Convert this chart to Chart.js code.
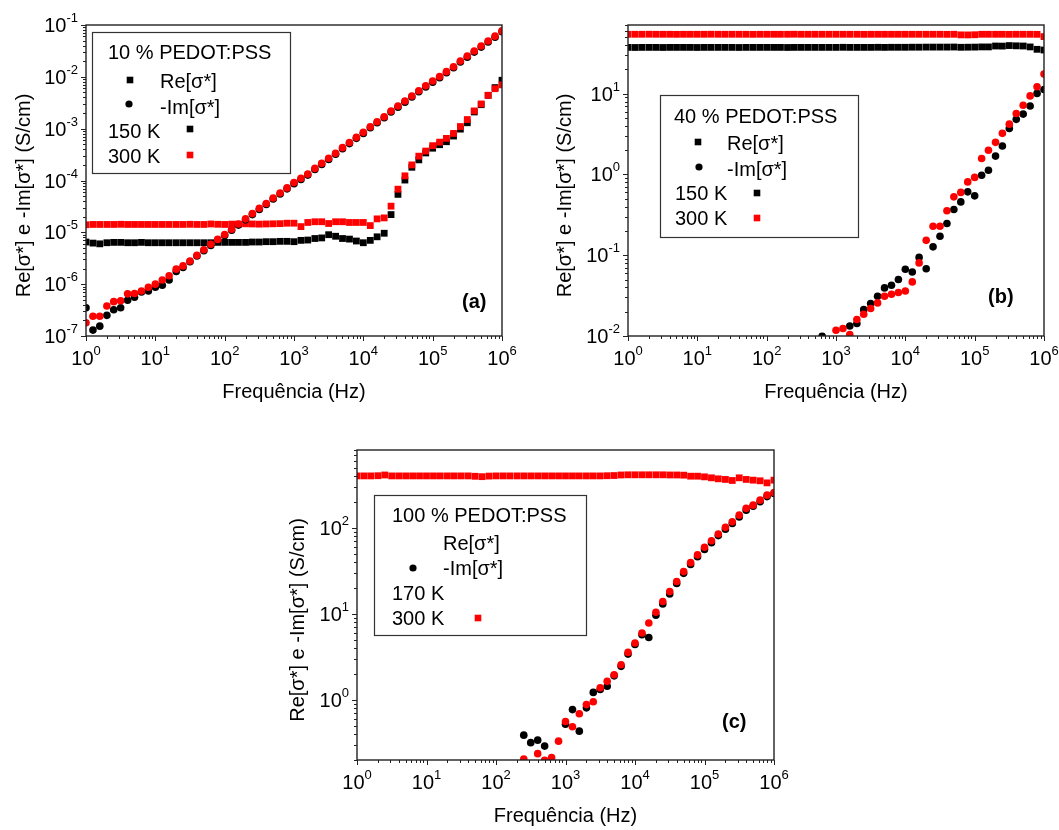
<!DOCTYPE html>
<html>
<head>
<meta charset="utf-8">
<script src="https://cdn.jsdelivr.net/npm/chart.js@4.4.1/dist/chart.umd.min.js"></script>
<style>
    body { margin: 0; background: #fff; width: 1059px; height: 830px; position: relative; overflow: hidden; }
    .panel { position: absolute; }
</style>
</head>
<body>
<div class="panel" style="left:0;top:0"><canvas id="chartA" width="520" height="415"></canvas></div>
<div class="panel" style="left:530px;top:0"><canvas id="chartB" width="529" height="415"></canvas></div>
<div class="panel" style="left:270px;top:420px"><canvas id="chartC" width="520" height="410"></canvas></div>
<script>
// frequencies (Hz), 10 per decade
const freq = [
    1, 1.26, 1.58, 2, 2.51, 3.16, 3.98, 5.01, 6.31, 7.94,
    10, 12.6, 15.8, 20, 25.1, 31.6, 39.8, 50.1, 63.1, 79.4,
    100, 126, 158, 200, 251, 316, 398, 501, 631, 794,
    1e3, 1.26e3, 1.58e3, 2e3, 2.51e3, 3.16e3, 3.98e3, 5.01e3, 6.31e3, 7.94e3,
    1e4, 1.26e4, 1.58e4, 2e4, 2.51e4, 3.16e4, 3.98e4, 5.01e4, 6.31e4, 7.94e4,
    1e5, 1.26e5, 1.58e5, 2e5, 2.51e5, 3.16e5, 3.98e5, 5.01e5, 6.31e5, 7.94e5,
    1e6
];

// (a) 10 % PEDOT:PSS
const aRe150 = [
    6.5e-6, 6.2e-6, 6.0e-6, 6.3e-6, 6.4e-6, 6.4e-6, 6.3e-6, 6.3e-6, 6.4e-6, 6.3e-6,
    6.3e-6, 6.3e-6, 6.3e-6, 6.3e-6, 6.3e-6, 6.3e-6, 6.3e-6, 6.3e-6, 6.3e-6, 6.4e-6,
    6.4e-6, 6.4e-6, 6.4e-6, 6.4e-6, 6.5e-6, 6.5e-6, 6.6e-6, 6.6e-6, 6.7e-6, 6.7e-6,
    6.6e-6, 7.0e-6, 7.1e-6, 7.6e-6, 7.8e-6, 9.0e-6, 8.4e-6, 7.6e-6, 7.4e-6, 6.8e-6,
    6.3e-6, 7.0e-6, 8.2e-6, 9.6e-6, 2.2e-5, 5.4e-5, 1.02e-4, 1.8e-4, 2.5e-4, 3.4e-4,
    4.2e-4, 4.9e-4, 5.6e-4, 7.2e-4, 9.8e-4, 1.3e-3, 2.1e-3, 2.9e-3, 4.4e-3, 6.2e-3,
    8.6e-3
];
const aRe300 = [
    1.40e-5, 1.42e-5, 1.42e-5, 1.42e-5, 1.42e-5, 1.43e-5, 1.42e-5, 1.42e-5, 1.42e-5, 1.42e-5,
    1.42e-5, 1.42e-5, 1.42e-5, 1.42e-5, 1.42e-5, 1.43e-5, 1.42e-5, 1.42e-5, 1.45e-5, 1.43e-5,
    1.42e-5, 1.44e-5, 1.44e-5, 1.46e-5, 1.45e-5, 1.44e-5, 1.45e-5, 1.46e-5, 1.47e-5, 1.50e-5,
    1.50e-5, 1.29e-5, 1.55e-5, 1.6e-5, 1.6e-5, 1.48e-5, 1.6e-5, 1.6e-5, 1.55e-5, 1.55e-5,
    1.55e-5, 1.35e-5, 1.82e-5, 1.9e-5, 3.2e-5, 6.8e-5, 1.23e-4, 2.0e-4, 2.95e-4, 3.7e-4,
    4.7e-4, 5.5e-4, 6.5e-4, 8.1e-4, 1.1e-3, 1.5e-3, 2.2e-3, 3.0e-3, 4.4e-3, 5.9e-3,
    7.0e-3
];
const aIm150 = [
    3.5e-7, 1.3e-7, 1.55e-7, 2.5e-7, 3.2e-7, 3.5e-7, 4.9e-7, 5.6e-7, 7.1e-7, 7.4e-7,
    8.7e-7, 9.5e-7, 1.2e-6, 1.75e-6, 2.1e-6, 2.7e-6, 3.5e-6, 4.4e-6, 5.6e-6, 7.0e-6,
    8.7e-6, 1.1e-5, 1.38e-5, 1.74e-5, 2.2e-5, 2.75e-5, 3.45e-5, 4.4e-5, 5.5e-5, 6.9e-5,
    8.7e-5, 1.05e-4, 1.27e-4, 1.63e-4, 2.04e-4, 2.55e-4, 3.2e-4, 4.1e-4, 5.15e-4, 6.5e-4,
    8.1e-4, 1.04e-3, 1.3e-3, 1.62e-3, 2.09e-3, 2.6e-3, 3.25e-3, 4.07e-3, 5.15e-3, 6.4e-3,
    7.9e-3, 9.6e-3, 1.2e-2, 1.5e-2, 1.93e-2, 2.4e-2, 3.0e-2, 3.75e-2, 4.7e-2, 5.8e-2,
    7.4e-2
];
const aIm300 = [
    1.8e-7, 2.4e-7, 2.4e-7, 3.8e-7, 4.6e-7, 4.8e-7, 6.5e-7, 6.6e-7, 7.4e-7, 8.7e-7,
    1.0e-6, 1.2e-6, 1.45e-6, 1.95e-6, 2.25e-6, 2.8e-6, 3.6e-6, 4.6e-6, 5.9e-6, 7.3e-6,
    9.1e-6, 1.15e-5, 1.45e-5, 1.82e-5, 2.3e-5, 2.9e-5, 3.6e-5, 4.6e-5, 5.75e-5, 7.2e-5,
    9.1e-5, 1.1e-4, 1.33e-4, 1.71e-4, 2.14e-4, 2.68e-4, 3.35e-4, 4.3e-4, 5.4e-4, 6.8e-4,
    8.5e-4, 1.09e-3, 1.36e-3, 1.7e-3, 2.19e-3, 2.74e-3, 3.42e-3, 4.27e-3, 5.4e-3, 6.7e-3,
    8.3e-3, 1.01e-2, 1.26e-2, 1.57e-2, 2.02e-2, 2.52e-2, 3.15e-2, 3.94e-2, 4.9e-2, 6.1e-2,
    7.7e-2
];

// (b) 40 % PEDOT:PSS
const bRe150 = [
    37.5, 37.4, 37.5, 37.5, 37.5, 37.4, 37.5, 37.5, 37.5, 37.5,
    37.4, 37.5, 37.5, 37.5, 37.5, 37.5, 37.4, 37.5, 37.5, 37.5,
    37.5, 37.5, 37.5, 37.4, 37.5, 37.5, 37.5, 37.5, 37.5, 37.5,
    37.5, 37.6, 37.5, 37.5, 37.5, 37.5, 37.6, 37.5, 37.6, 37.6,
    37.6, 37.7, 37.7, 37.8, 37.8, 37.8, 37.8, 37.9, 37.6, 37.7,
    37.8, 38.0, 38.0, 39.0, 38.9, 39.5, 39.2, 39.0, 38.0, 35.5,
    34.8
];
const bRe300 = [
    54.5, 54.5, 54.5, 54.6, 54.5, 54.5, 54.5, 54.4, 54.5, 54.5,
    54.5, 54.5, 54.6, 54.5, 54.5, 54.5, 54.5, 54.5, 54.4, 54.5,
    54.5, 54.5, 54.5, 54.5, 54.6, 54.5, 54.5, 54.5, 54.5, 54.5,
    54.5, 54.5, 54.5, 54.5, 54.4, 54.5, 54.5, 54.5, 54.5, 54.5,
    54.5, 54.5, 54.5, 54.5, 54.5, 54.5, 54.4, 54.5, 53.6, 53.5,
    53.8, 54.5, 54.5, 54.5, 54.5, 54.4, 54.5, 54.5, 54.5, 54.4,
    51
];
const bIm150 = [
    null, null, null, null, null, null, null, null, null, null,
    null, null, null, null, null, null, null, null, null, null,
    null, null, null, null, null, null, null, null, 0.0099, null,
    null, null, 0.0133, 0.0143, 0.0212, 0.0252, 0.031, 0.0394, 0.0425, 0.050,
    0.067, 0.062, 0.094, 0.068, 0.127, 0.172, 0.247, 0.368, 0.458, 0.61,
    0.544, 0.98, 1.13, 1.69, 2.25, 3.72, 4.82, 5.6, 7.05, 10.1,
    11.3
];
const bIm300 = [
    null, null, null, null, null, null, null, null, null, null,
    null, null, null, null, null, null, null, null, null, null,
    null, null, null, null, null, null, null, null, null, null,
    0.0118, 0.0124, 0.0104, 0.016, 0.0186, 0.0219, 0.0257, 0.031, 0.0329, 0.0345,
    0.0361, 0.0468, 0.0804, 0.153, 0.229, 0.229, 0.355, 0.529, 0.60, 0.81,
    0.92, 1.58, 2.0, 2.5, 3.23, 4.2, 5.7, 7.2, 9.4, 12.2,
    17.5
];

// (c) 100 % PEDOT:PSS
const cRe300 = [
    400, 400, 400, 402, 410, 400, 400, 400, 400, 400,
    400, 400, 400, 400, 400, 400, 400, 396, 392, 398,
    400, 400, 400, 400, 400, 400, 400, 400, 400, 400,
    400, 400, 400, 400, 400, 400, 402, 404, 410, 412,
    412, 412, 412, 412, 412, 410, 410, 408, 397, 397,
    390, 380, 370, 364, 354, 380, 364, 357, 351, 332,
    357
];
const cIm170 = [
    null, null, null, null, null, null, null, null, null, null,
    null, null, null, null, null, null, null, null, null, null,
    null, null, null, null, 0.389, 0.318, 0.34, 0.29, null, null,
    0.52, 0.77, 0.433, 0.807, 1.22, 1.32, 1.44, 1.9, 2.45, 3.4,
    4.4, 5.7, 5.3, 9.6, 13.0, 17.0, 22.5, 29.5, 37.5, 46,
    56, 67, 81, 96, 112, 133, 160, 178, 200, 230,
    250
];
const cIm300 = [
    null, null, null, null, null, null, null, null, null, null,
    null, null, null, null, null, null, null, null, null, null,
    null, null, null, null, 0.205, null, 0.237, 0.198, 0.213, 0.331,
    0.56, 0.486, 0.688, 0.88, 0.95, 1.38, 1.64, 1.96, 2.56, 3.56,
    4.57, 5.97, 7.8, 10.4, 13.9, 18.1, 23.7, 30.9, 39.3, 48.3,
    59.3, 70.6, 84.5, 101, 117, 140, 168, 183, 209, 239,
    257
];

// decade exponents that get a label
const xExp = [0, 1, 2, 3, 4, 5, 6];
const aYExp = [-7, -6, -5, -4, -3, -2, -1];
const bYExp = [-2, -1, 0, 1];
const cYExp = [0, 1, 2];

const FONT = '"Liberation Sans", Arial, Helvetica, sans-serif';
const RED = '#ff0000';
const BLACK = '#000000';

function points(values) {
    const out = [];
    values.forEach(function (v, i) {
        if (v !== null) out.push({ x: freq[i], y: v });
    });
    return out;
}

function series(label, values, color, style) {
    return {
        label: label,
        data: points(values),
        pointStyle: style,
        pointRadius: style === 'rect' ? 4.8 : 3.8,
        backgroundColor: color,
        borderColor: color,
        borderWidth: 0,
        pointBorderWidth: 0,
        showLine: false
    };
}

function powerLabel(ctx, x, y, exp, align) {
    ctx.font = '20px ' + FONT;
    const w1 = ctx.measureText('10').width;
    ctx.font = '13px ' + FONT;
    const w2 = ctx.measureText(String(exp)).width;
    const start = align === 'center' ? x - (w1 + w2) / 2 : x - w1 - w2;
    ctx.textAlign = 'left';
    ctx.font = '20px ' + FONT;
    ctx.fillText('10', start, y);
    ctx.font = '13px ' + FONT;
    ctx.fillText(String(exp), start + w1, y - 10);
}

function drawMarker(ctx, m) {
    ctx.fillStyle = m.color;
    if (m.type === 'rect') {
        ctx.fillRect(m.x - 3.3, m.y - 3.3, 6.6, 6.6);
    } else {
        ctx.beginPath();
        ctx.arc(m.x, m.y, 3.6, 0, Math.PI * 2);
        ctx.fill();
    }
}

// frame, log ticks, superscript labels, titles and the boxed legend
const decorPlugin = {
    id: 'decor',
    afterDraw(chart) {
        const p = chart.options.plugins.decor;
        const ctx = chart.ctx;
        const a = chart.chartArea;
        const xs = chart.scales.x;
        const ys = chart.scales.y;
        ctx.save();
        ctx.strokeStyle = '#222';
        ctx.lineWidth = 1.4;
        ctx.strokeRect(a.left, a.top, a.right - a.left, a.bottom - a.top);

        ctx.lineWidth = 1;
        ctx.beginPath();
        for (let d = Math.floor(Math.log10(ys.min)); d <= Math.ceil(Math.log10(ys.max)); d++) {
            for (let m = 1; m <= 9; m++) {
                const v = m * Math.pow(10, d);
                if (v < ys.min * 0.999 || v > ys.max * 1.001) continue;
                const y = Math.round(ys.getPixelForValue(v)) + 0.5;
                const len = m === 1 ? 5 : 3;
                ctx.moveTo(a.left - len, y);
                ctx.lineTo(a.left, y);
            }
        }
        for (let d = 0; d <= 6; d++) {
            for (let m = 1; m <= 9; m++) {
                const v = m * Math.pow(10, d);
                if (v > xs.max * 1.001) continue;
                const x = Math.round(xs.getPixelForValue(v)) + 0.5;
                const len = m === 1 ? 5 : 3;
                ctx.moveTo(x, a.bottom);
                ctx.lineTo(x, a.bottom + len);
            }
        }
        ctx.stroke();

        ctx.fillStyle = '#000';
        ctx.textBaseline = 'alphabetic';
        xExp.forEach(function (e) {
            powerLabel(ctx, xs.getPixelForValue(Math.pow(10, e)), a.bottom + 29, e, 'center');
        });
        p.yExp.forEach(function (e) {
            powerLabel(ctx, a.left - 8, ys.getPixelForValue(Math.pow(10, e)) + 7, e, 'right');
        });

        ctx.font = '20px ' + FONT;
        ctx.textAlign = 'center';
        ctx.fillText('Frequência (Hz)', (a.left + a.right) / 2, a.bottom + 62);
        ctx.save();
        ctx.translate(p.yTitleX, (a.top + a.bottom) / 2 + 15);
        ctx.rotate(-Math.PI / 2);
        ctx.fillText('Re[σ*] e -Im[σ*] (S/cm)', 0, 0);
        ctx.restore();

        ctx.font = 'bold 20px ' + FONT;
        ctx.textAlign = 'left';
        ctx.fillText(p.letter.text, p.letter.x, p.letter.y);

        const lg = p.legend;
        ctx.strokeStyle = '#333';
        ctx.lineWidth = 1.2;
        ctx.strokeRect(lg.box[0] + 0.5, lg.box[1] + 0.5, lg.box[2], lg.box[3]);
        ctx.font = '20px ' + FONT;
        lg.rows.forEach(function (r) {
            ctx.fillStyle = '#000';
            ctx.fillText(r.text, r.x, r.y);
            if (r.marker) drawMarker(ctx, r.marker);
        });
        ctx.restore();
    }
};

function makePanel(id, cfg) {
    const ctx = document.getElementById(id).getContext('2d');
    return new Chart(ctx, {
        type: 'scatter',
        data: { datasets: cfg.datasets },
        options: {
            responsive: false,
            animation: false,
            devicePixelRatio: 1,
            layout: { padding: cfg.padding },
            plugins: {
                legend: { display: false },
                tooltip: { enabled: false },
                decor: cfg.decor
            },
            scales: {
                x: {
                    type: 'logarithmic',
                    min: 1,
                    max: 1e6,
                    grid: { display: false },
                    border: { display: false },
                    ticks: { display: false },
                    afterFit: function (scale) { scale.height = cfg.xHeight; }
                },
                y: {
                    type: 'logarithmic',
                    min: cfg.yMin,
                    max: cfg.yMax,
                    grid: { display: false },
                    border: { display: false },
                    ticks: { display: false },
                    afterFit: function (scale) { scale.width = cfg.yWidth; }
                }
            }
        },
        plugins: [decorPlugin]
    });
}

makePanel('chartA', {
    padding: { left: 0, right: 18, top: 25, bottom: 0 },
    xHeight: 79,
    yWidth: 86,
    yMin: 1e-7,
    yMax: 1e-1,
    datasets: [
        series('-Im 300 K', aIm300, RED, 'circle'),
        series('-Im 150 K', aIm150, BLACK, 'circle'),
        series('Re 300 K', aRe300, RED, 'rect'),
        series('Re 150 K', aRe150, BLACK, 'rect')
    ],
    decor: {
        yExp: aYExp,
        yTitleX: 30,
        letter: { text: '(a)', x: 462, y: 308 },
        legend: {
            box: [92, 32, 198, 141],
            rows: [
                { text: '10 % PEDOT:PSS', x: 108, y: 59 },
                { text: 'Re[σ*]', x: 160, y: 88, marker: { type: 'rect', color: BLACK, x: 130, y: 80 } },
                { text: '-Im[σ*]', x: 160, y: 114, marker: { type: 'circle', color: BLACK, x: 129, y: 104 } },
                { text: '150 K', x: 108, y: 138, marker: { type: 'rect', color: BLACK, x: 190, y: 129 } },
                { text: '300 K', x: 108, y: 163, marker: { type: 'rect', color: RED, x: 190, y: 155 } }
            ]
        }
    }
});

makePanel('chartB', {
    padding: { left: 0, right: 15, top: 25, bottom: 0 },
    xHeight: 79,
    yWidth: 98,
    yMin: 0.01,
    yMax: 71,
    datasets: [
        series('-Im 300 K', bIm300, RED, 'circle'),
        series('-Im 150 K', bIm150, BLACK, 'circle'),
        series('Re 300 K', bRe300, RED, 'rect'),
        series('Re 150 K', bRe150, BLACK, 'rect')
    ],
    decor: {
        yExp: bYExp,
        yTitleX: 41,
        letter: { text: '(b)', x: 458, y: 303 },
        legend: {
            box: [130, 95, 198, 142],
            rows: [
                { text: '40 % PEDOT:PSS', x: 144, y: 123 },
                { text: 'Re[σ*]', x: 197, y: 150, marker: { type: 'rect', color: BLACK, x: 168, y: 142 } },
                { text: '-Im[σ*]', x: 197, y: 176, marker: { type: 'circle', color: BLACK, x: 169, y: 167 } },
                { text: '150 K', x: 145, y: 200, marker: { type: 'rect', color: BLACK, x: 227, y: 193 } },
                { text: '300 K', x: 145, y: 225, marker: { type: 'rect', color: RED, x: 227, y: 218 } }
            ]
        }
    }
});

makePanel('chartC', {
    padding: { left: 0, right: 16, top: 30, bottom: 0 },
    xHeight: 70,
    yWidth: 87,
    yMin: 0.2,
    yMax: 800,
    datasets: [
        series('-Im 300 K', cIm300, RED, 'circle'),
        series('-Im 170 K', cIm170, BLACK, 'circle'),
        series('Re 300 K', cRe300, RED, 'rect')
    ],
    decor: {
        yExp: cYExp,
        yTitleX: 34,
        letter: { text: '(c)', x: 452, y: 308 },
        legend: {
            box: [104, 75, 212, 140],
            rows: [
                { text: '100 % PEDOT:PSS', x: 122, y: 102 },
                { text: 'Re[σ*]', x: 173, y: 130 },
                { text: '-Im[σ*]', x: 173, y: 155, marker: { type: 'circle', color: BLACK, x: 143, y: 148 } },
                { text: '170 K', x: 122, y: 180 },
                { text: '300 K', x: 122, y: 205, marker: { type: 'rect', color: RED, x: 208, y: 198 } }
            ]
        }
    }
});
</script>
</body>
</html>
